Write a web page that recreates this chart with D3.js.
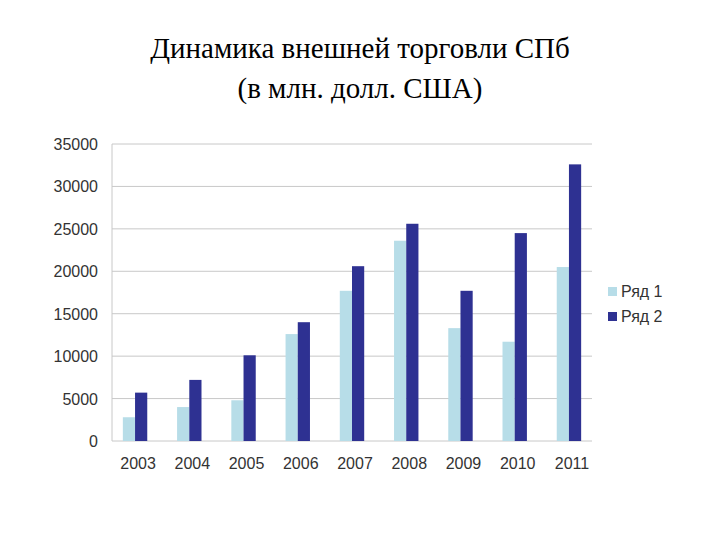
<!DOCTYPE html>
<html><head><meta charset="utf-8">
<script src="https://cdn.jsdelivr.net/npm/d3@7"></script>
<style>body{margin:0;background:#fff}</style></head>
<body><svg id="c" width="720" height="540"></svg>
<script>
const years = ["2003","2004","2005","2006","2007","2008","2009","2010","2011"];
const series1 = [2800,4000,4800,12600,17700,23600,13300,11700,20500];
const series2 = [5700,7200,10100,14000,20600,25600,17700,24500,32600];
const seriesNames = ["Ряд 1","Ряд 2"];
const colors = ["#b7dde8","#2e3192"];
const yTicks = [0,5000,10000,15000,20000,25000,30000,35000];

const svg = d3.select("#c");
svg.append("text").attr("x",360).attr("y",58).attr("text-anchor","middle")
  .attr("font-family","Liberation Serif").attr("font-size",29).text("Динамика внешней торговли СПб");
svg.append("text").attr("x",360).attr("y",98).attr("text-anchor","middle")
  .attr("font-family","Liberation Serif").attr("font-size",29).text("(в млн. долл. США)");

const x0=112,x1=592,yb=441,yt=144;
const x = d3.scaleBand().domain(years).range([x0,x1]).paddingInner(0.55).paddingOuter(0.2);
const xs = d3.scaleBand().domain([0,1]).range([0,x.bandwidth()]);
const y = d3.scaleLinear().domain([0,35000]).range([yb,yt]);

svg.append("g").selectAll("line").data(yTicks).join("line")
  .attr("x1",x0).attr("x2",x1).attr("y1",d=>y(d)).attr("y2",d=>y(d)).attr("stroke","#c8c8c8");
svg.append("line").attr("x1",x0).attr("x2",x0).attr("y1",yt).attr("y2",yb).attr("stroke","#c8c8c8");

svg.append("g").selectAll("text").data(yTicks).join("text")
  .attr("x",98).attr("y",d=>y(d)+6).attr("text-anchor","end")
  .attr("font-family","Liberation Sans").attr("font-size",16).attr("fill","#333").text(d=>d);
svg.append("g").selectAll("text").data(years).join("text")
  .attr("x",d=>x(d)+x.bandwidth()/2+3).attr("y",469).attr("text-anchor","middle")
  .attr("font-family","Liberation Sans").attr("font-size",16).attr("fill","#333").text(d=>d);

[series1,series2].forEach((s,k)=>{
  svg.append("g").selectAll("rect").data(s).join("rect")
    .attr("x",(d,i)=>x(years[i])+xs(k)).attr("width",xs.bandwidth())
    .attr("y",d=>y(d)).attr("height",d=>yb-y(d)).attr("fill",colors[k]);
});

seriesNames.forEach((n,k)=>{
  const ly=292+k*25;
  svg.append("rect").attr("x",608).attr("y",ly-5).attr("width",9).attr("height",9).attr("fill",colors[k]);
  svg.append("text").attr("x",621).attr("y",ly+5).attr("font-family","Liberation Sans")
    .attr("font-size",16).attr("fill","#333").text(n);
});
</script></body></html>
